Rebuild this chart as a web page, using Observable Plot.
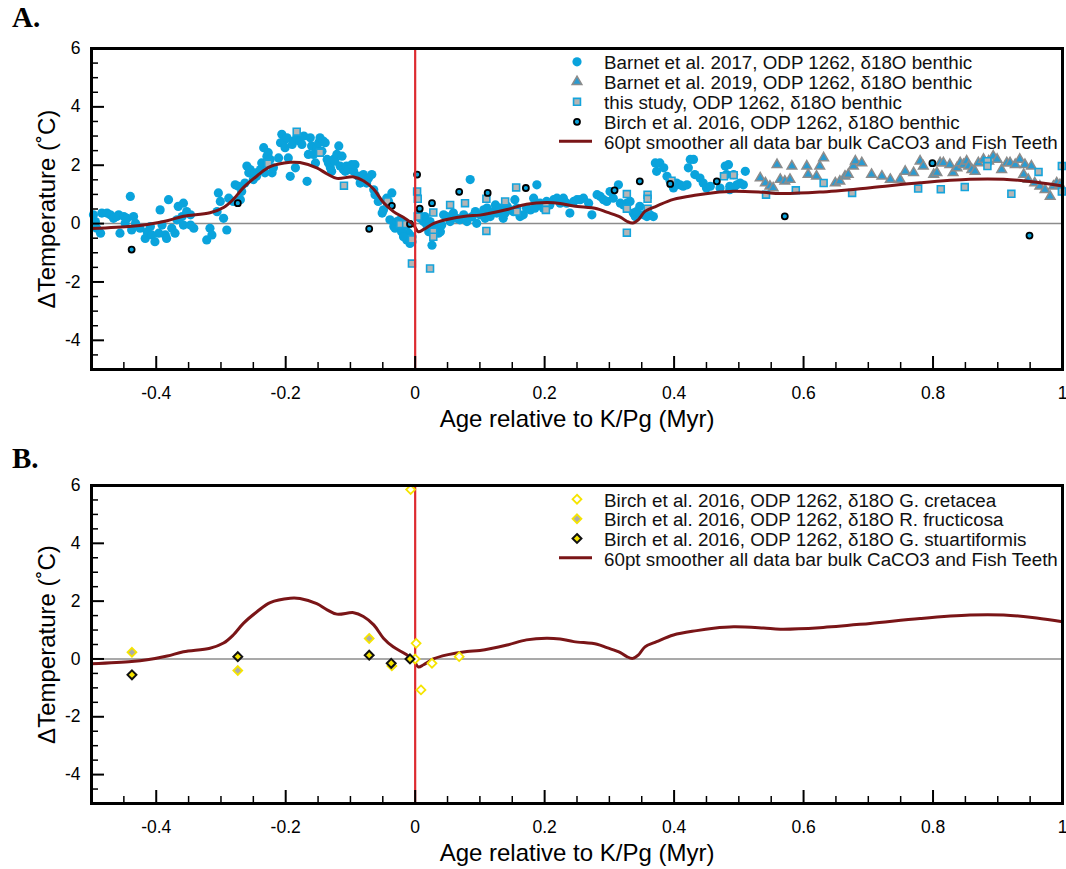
<!DOCTYPE html>
<html><head><meta charset="utf-8">
<script src="https://cdn.jsdelivr.net/npm/d3@7"></script>
<script src="https://cdn.jsdelivr.net/npm/@observablehq/plot@0.6"></script>
<style>
body{margin:0;background:#fff;}
#wrap{position:relative;width:1066px;height:869px;overflow:hidden;}
#wrap > svg{position:absolute;left:0;}
</style></head><body><div id="wrap"></div>
<script>
// ---------- data (age relative to K/Pg in Myr, ΔTemperature in °C) ----------
const barnet2017 = [
[-0.497,0.30],[-0.494,0.07],[-0.492,-0.16],[-0.486,-0.33],[-0.484,0.36],[-0.476,0.36],[-0.471,0.30],[-0.466,0.18],[-0.461,0.24],[-0.458,0.30],
[-0.456,-0.33],[-0.450,0.24],[-0.448,0.01],[-0.445,0.18],[-0.440,0.93],[-0.435,0.24],[-0.432,0.01],[-0.438,-0.22],[-0.425,-0.16],[-0.417,-0.51],
[-0.414,-0.28],[-0.409,-0.10],[-0.407,-0.39],[-0.402,-0.62],[-0.396,-0.33],[-0.394,0.47],[-0.391,-0.05],[-0.386,-0.39],[-0.384,-0.51],[-0.381,0.82],
[-0.376,-0.16],[-0.371,-0.33],[-0.368,0.13],[-0.366,0.59],[-0.360,0.24],[-0.358,0.70],[-0.353,0.41],[-0.347,0.30],[-0.342,-0.16],[-0.358,-0.05],[-0.347,-0.05],
[-0.322,-0.56],[-0.317,-0.16],[-0.314,-0.39],[-0.306,0.41],[-0.304,1.05],[-0.301,0.76],[-0.296,0.18],[-0.291,-0.22],[-0.288,0.87],[-0.281,0.76],
[-0.278,1.33],[-0.273,1.28],[-0.270,0.82],[-0.268,1.10],
[-0.263,1.39],[-0.260,1.97],[-0.257,1.74],[-0.255,1.85],[-0.250,1.51],[-0.247,1.74],[-0.245,1.62],[-0.239,1.85],[-0.237,2.08],[-0.234,2.60],
[-0.232,1.74],[-0.229,2.31],[-0.227,2.43],[-0.224,2.20],[-0.221,1.74],[-0.219,1.91],
[-0.211,2.25],[-0.208,2.77],[-0.206,3.06],[-0.203,2.83],[-0.201,2.60],[-0.198,2.94],[-0.196,2.25],[-0.193,1.62],[-0.190,2.71],[-0.188,2.83],
[-0.185,1.91],[-0.183,2.94],[-0.178,2.83],[-0.175,2.71],[-0.172,3.00],[-0.167,1.45],[-0.165,2.37],[-0.162,2.94],[-0.160,2.66],[-0.157,2.37],
[-0.154,2.08],[-0.152,2.60],[-0.149,2.77],[-0.147,2.94],[-0.144,2.48],[-0.142,2.83],[-0.139,2.77],[-0.136,2.20],[-0.134,2.08],[-0.131,1.91],
[-0.129,1.79],[-0.126,2.20],[-0.124,2.14],[-0.121,2.37],[-0.118,2.66],[-0.116,1.97],[-0.113,2.31],[-0.111,1.85],[-0.108,1.79],[-0.106,1.97],
[-0.103,1.85],[-0.098,2.02],[-0.095,1.79],[-0.093,2.02],[-0.088,1.62],[-0.085,1.39],[-0.080,1.68],[-0.075,1.39],[-0.072,1.56],[-0.067,1.68],
[-0.064,1.16],[-0.062,0.99],[-0.057,0.76],[-0.051,0.36],[-0.049,0.47],[-0.044,0.87],[-0.041,0.76],[-0.036,1.05],[-0.039,0.13],[-0.033,-0.10],
[-0.031,-0.16],[-0.028,0.07],[-0.023,0.13],[-0.021,-0.16],[-0.018,-0.39],[-0.015,-0.45],[-0.013,-0.56],[-0.010,-0.33],[-0.008,-0.68],[-0.005,-0.62],[-0.005,-0.45],
[-0.021,-0.28],[-0.018,-0.45],[-0.013,-0.05],[-0.008,-0.62],
[0.005,0.36],[0.008,0.18],[0.013,0.07],[0.015,0.24],[0.018,-0.05],[0.021,-0.28],[0.023,0.07],[0.026,-0.74],[0.028,-0.16],[0.033,-0.10],
[0.036,-0.33],[0.039,-0.28],[0.041,-0.05],[0.044,0.30],[0.049,0.24],[0.054,0.07],[0.059,0.36],[0.064,0.18],[0.069,0.13],[0.075,0.30],
[0.080,0.07],[0.085,1.51],[0.088,0.24],[0.093,0.41],[0.095,0.01],[0.100,0.30],[0.106,0.47],[0.108,0.18],[0.111,0.53],[0.116,0.24],
[0.121,0.41],[0.124,0.64],[0.126,0.36],[0.131,0.53],[0.136,0.18],[0.139,0.36],[0.142,0.59],[0.147,0.47],[0.152,0.41],[0.154,0.82],
[0.157,0.53],[0.162,0.24],[0.167,0.30],[0.172,0.53],[0.178,0.47],[0.183,0.87],[0.185,0.53],[0.188,1.33],[0.193,0.70],[0.198,0.53],
[0.203,0.76],[0.208,0.64],[0.214,0.82],[0.219,0.87],[0.224,0.70],[0.229,0.87],[0.234,0.70],[0.239,0.36],[0.245,0.76],[0.250,0.82],
[0.255,0.82],[0.260,0.87],[0.268,0.70],[0.273,0.30],[0.281,0.99],[0.286,0.93],[0.291,0.82],[0.296,0.76],[0.301,1.10],[0.306,0.87],
[0.314,1.33],[0.317,0.70],[0.322,0.64],[0.327,0.70],[0.332,0.76],[0.337,0.36],[0.340,0.24],[0.342,0.41],[0.347,0.59],[0.353,0.30],
[0.358,0.24],[0.363,0.30],[0.368,0.24],[0.373,1.79],[0.371,2.08],[0.378,2.08],[0.384,1.91],[0.389,1.62],[0.394,1.45],[0.399,1.22],
[0.404,1.39],[0.409,1.33],[0.414,1.28],[0.420,1.33],[0.422,1.91],[0.425,2.20],[0.430,2.20],[0.432,1.68],[0.440,1.56],[0.445,1.39],
[0.450,1.22],[0.456,1.28],[0.471,1.22],[0.479,1.97],[0.481,1.68],[0.486,1.16],[0.492,1.22],[0.497,1.33],
[0.484,2.02],[0.492,1.68],[0.502,1.39],[0.510,1.79],[0.486,1.28],[0.507,1.33]
];
const barnet2019 = [
[0.533,1.56],[0.541,1.39],[0.548,1.28],[0.553,1.22],[0.559,2.02],[0.564,1.51],[0.571,1.45],[0.579,1.51],[0.582,1.97],[0.605,1.97],
[0.607,1.68],[0.620,1.62],[0.625,1.97],[0.631,2.25],[0.649,1.39],[0.656,1.45],[0.664,1.62],[0.669,1.68],[0.677,1.97],[0.680,2.14],
[0.690,2.08],[0.705,1.68],[0.721,1.62],[0.734,1.51],[0.749,1.51],[0.757,1.79],[0.770,1.74],[0.780,2.14],[0.785,1.97],[0.801,1.68],
[0.806,1.74],[0.811,2.08],[0.816,2.08],[0.826,2.02],[0.831,1.74],[0.837,1.91],[0.842,2.08],[0.847,2.02],[0.852,2.14],[0.855,1.97],
[0.860,1.85],[0.865,1.79],[0.870,2.08],[0.878,2.20],[0.886,2.14],[0.893,2.31],[0.899,2.20],[0.906,1.85],[0.914,2.08],[0.919,2.08],
[0.927,2.02],[0.934,2.20],[0.942,2.02],[0.952,1.97],[0.940,1.68],[0.947,1.51],[0.957,1.39],[0.965,1.28],[0.973,1.16],[0.981,0.93],
[0.986,1.28],[0.991,1.39],[0.996,1.33]
];
const thisStudy = [
[-0.183,3.15],[-0.147,2.43],[-0.227,2.05],[-0.110,1.30],[-0.043,0.76],[-0.023,-0.02],[-0.014,-0.02],[-0.005,-0.54],[-0.005,-1.37],
[0.003,1.10],[0.004,0.85],[0.004,0.24],
[0.023,-1.54],[0.028,-0.28],[0.028,-0.45],[0.028,0.38],[0.054,0.64],[0.077,0.70],[0.110,0.85],[0.110,-0.25],[0.139,0.76],[0.157,0.41],
[0.156,1.24],[0.202,0.64],[0.202,0.47],[0.327,1.01],[0.327,0.51],[0.327,-0.31],[0.359,0.99],[0.359,0.85],[0.359,0.51],[0.396,1.47],
[0.477,1.62],[0.492,1.66],
[0.542,0.99],[0.588,1.14],[0.631,1.39],[0.675,1.05],[0.777,1.20],[0.812,1.18],[0.849,1.25],[0.884,2.14],[0.884,1.97],[0.921,1.02],
[0.963,1.77],[0.999,1.97],[0.999,1.10]
];
const birchBenthic = [
[-0.438,-0.89],[-0.274,0.70],[-0.071,-0.18],[-0.036,0.61],[-0.008,-0.01],[0.003,1.68],[0.007,0.51],
[0.026,0.70],[0.068,1.09],[0.112,1.05],[0.171,1.22],[0.308,1.14],[0.347,1.45],[0.394,1.36],[0.466,1.45],
[0.571,0.25],[0.799,2.07],[0.949,-0.41]
];
const gCretacea = [[-0.007,5.86],[0.0015,0.54],[0.0,0.0],[0.009,-1.07],[0.026,-0.15],[0.068,0.08]];
const rFructicosa = [[-0.4375,0.23],[-0.274,-0.40],[-0.071,0.71],[-0.036,-0.24]];
const gStuartiformis = [[-0.4375,-0.55],[-0.274,0.08],[-0.071,0.13],[-0.037,-0.15],[-0.008,0.0]];
const smoother = [
[-0.500,-0.17],[-0.438,-0.09],[-0.414,-0.03],[-0.383,0.10],[-0.358,0.25],[-0.317,0.37],[-0.296,0.55],[-0.281,0.83],[-0.265,1.24],[-0.244,1.64],
[-0.224,1.95],[-0.193,2.10],[-0.178,2.09],[-0.152,1.91],[-0.136,1.70],[-0.121,1.55],[-0.095,1.60],[-0.080,1.47],[-0.064,1.18],[-0.049,0.72],
[-0.034,0.42],[-0.015,0.17],[-0.003,-0.03],[0.005,-0.28],[0.013,-0.20],[0.028,0.00],[0.049,0.14],[0.080,0.26],[0.100,0.29],[0.142,0.48],
[0.172,0.66],[0.203,0.72],[0.224,0.69],[0.245,0.60],[0.281,0.51],[0.296,0.39],[0.317,0.22],[0.327,0.08],[0.336,0.02],[0.345,0.14],
[0.355,0.42],[0.373,0.60],[0.399,0.83],[0.435,0.98],[0.461,1.06],[0.492,1.11],[0.538,1.07],[0.564,1.03],[0.625,1.08],[0.703,1.23],
[0.780,1.40],[0.857,1.52],[0.909,1.52],[0.960,1.42],[1.000,1.29]
];
const xMajor = [-0.4,-0.2,0,0.2,0.4,0.6,0.8,1];
const xMinor = [-0.45,-0.35,-0.3,-0.25,-0.15,-0.1,-0.05,0.05,0.1,0.15,0.25,0.3,0.35,0.45,0.5,0.55,0.65,0.7,0.75,0.85,0.9,0.95];
const yMajor = [-4,-2,0,2,4,6];
const yMinor = [-4.5,-3.5,-3,-2.5,-1.5,-1,-0.5,0.5,1,1.5,2.5,3,3.5,4.5,5,5.5];
const xTitle = "Age relative to K/Pg (Myr)";
const yTitle = "\u0394Temperature (\u02DAC)";
const legendA = [
  "Barnet et al. 2017, ODP 1262, \u03B418O benthic",
  "Barnet et al. 2019, ODP 1262, \u03B418O benthic",
  "this study, ODP 1262, \u03B418O benthic",
  "Birch et al. 2016, ODP 1262, \u03B418O benthic",
  "60pt smoother all data bar bulk CaCO3 and Fish Teeth"
];
const legendB = [
  "Birch et al. 2016, ODP 1262, \u03B418O G. cretacea",
  "Birch et al. 2016, ODP 1262, \u03B418O R. fructicosa",
  "Birch et al. 2016, ODP 1262, \u03B418O G. stuartiformis",
  "60pt smoother all data bar bulk CaCO3 and Fish Teeth"
];

// ---------- styles ----------
const C = {
  b17: "#0aa3dc", triFill: "#2b9bd1", triStroke: "#8c8c8c",
  sqFill: "#b5b5b5", sqStroke: "#14a4dc", smooth: "#7a1517", red: "#dd2a30",
  zero: "#8c8c8c", yellow: "#f5e400", grey: "#ababab"
};
const FONT = "'Liberation Sans', Arial, sans-serif";
const W = 1066, ML = 91, MR = 4;

function frameMarks(H) {
  const FW = W - ML - MR;
  return [
    Plot.ruleX(xMajor, {x: d => d, insetTop: H - 13, stroke: "black", strokeWidth: 2}),
    Plot.ruleX(xMinor, {x: d => d, insetTop: H - 7, stroke: "black", strokeWidth: 1.5}),
    Plot.ruleY(yMajor, {y: d => d, insetRight: FW - 13, stroke: "black", strokeWidth: 2}),
    Plot.ruleY(yMinor, {y: d => d, insetRight: FW - 7, stroke: "black", strokeWidth: 1.5}),
    Plot.frame({stroke: "black", strokeWidth: 3}),
    Plot.axisX(xMajor, {tickSize: 0, tickPadding: 17, tickFormat: d => String(d), label: null, fontSize: 17.5}),
    Plot.axisY(yMajor, {tickSize: 0, tickPadding: 11, tickFormat: d => String(d), label: null, fontSize: 17.5}),
    Plot.text([xTitle], {text: d => d, frameAnchor: "bottom", dy: 50, lineAnchor: "middle", textAnchor: "middle", fontSize: 24}),
    Plot.text([yTitle], {text: d => d, frameAnchor: "left", dx: -44, rotate: -90, lineAnchor: "middle", textAnchor: "middle", fontSize: 24})
  ];
}
function makePlot(height, mt, mb, marks) {
  return Plot.plot({
    width: W, height, marginLeft: ML, marginRight: MR, marginTop: mt, marginBottom: mb,
    x: {domain: [-0.5, 1]}, y: {domain: [-5, 6]},
    style: {fontFamily: FONT, fontSize: "17px", background: "transparent", color: "black", overflow: "visible"},
    marks
  });
}
const smoothLine = Plot.line(smoother, {x: d => d[0], y: d => d[1], stroke: C.smooth, strokeWidth: 3, curve: "catmull-rom"});

// Panel A
const hA = 440, mtA = 48, mbA = 71;
const plotA = makePlot(hA, mtA, mbA, [
  Plot.ruleY([0], {stroke: C.zero, strokeWidth: 1.5}),
  Plot.dot(barnet2017, {x: d => d[0], y: d => d[1], r: 4.6, fill: C.b17, stroke: "none"}),
  Plot.dot(barnet2019, {x: d => d[0], y: d => d[1], symbol: "triangle", r: 3.6, fill: C.triFill, stroke: C.triStroke, strokeWidth: 1.5}),
  Plot.dot(thisStudy, {x: d => d[0], y: d => d[1], symbol: "square", r: 3.9, fill: C.sqFill, stroke: C.sqStroke, strokeWidth: 1.6}),
  Plot.dot(birchBenthic, {x: d => d[0], y: d => d[1], r: 3, fill: C.b17, stroke: "black", strokeWidth: 1.8}),
  smoothLine,
  Plot.ruleX([0], {stroke: C.red, strokeWidth: 2.2}),
  ...frameMarks(hA - mtA - mbA)
]);
plotA.style.top = "0px";

// Panel B
const hB = 429, mtB = 45, mbB = 66;
const plotB = makePlot(hB, mtB, mbB, [
  Plot.ruleY([0], {stroke: C.zero, strokeWidth: 1.5}),
  smoothLine,
  Plot.ruleX([0], {stroke: C.red, strokeWidth: 2.2}),
  Plot.dot(gCretacea, {x: d => d[0], y: d => d[1], symbol: "diamond2", r: 4, fill: "white", stroke: C.yellow, strokeWidth: 1.8}),
  Plot.dot(rFructicosa, {x: d => d[0], y: d => d[1], symbol: "diamond2", r: 4, fill: C.grey, stroke: C.yellow, strokeWidth: 1.8}),
  Plot.dot(gStuartiformis, {x: d => d[0], y: d => d[1], symbol: "diamond2", r: 4, fill: C.yellow, stroke: "#111", strokeWidth: 2}),
  ...frameMarks(hB - mtB - mbB)
]);
plotB.style.top = hA + "px";

const wrap = document.getElementById("wrap");
wrap.appendChild(plotA);
wrap.appendChild(plotB);

// ---------- overlay: panel letters and legends ----------
const ov = d3.create("svg").attr("width", W).attr("height", 869)
  .style("position", "absolute").style("left", "0px").style("top", "0px").style("pointer-events", "none");
ov.append("text").attr("x", 12).attr("y", 27).text("A.")
  .attr("font-family", "'Liberation Serif', 'Times New Roman', serif").attr("font-weight", "bold").attr("font-size", 29);
ov.append("text").attr("x", 12).attr("y", 468).text("B.")
  .attr("font-family", "'Liberation Serif', 'Times New Roman', serif").attr("font-weight", "bold").attr("font-size", 29);

const symX = 577, txtX = 604;
function legendRow(label, baseline, drawSym) {
  ov.append("text").attr("x", txtX).attr("y", baseline).text(label)
    .attr("font-family", FONT).attr("font-size", 18.8).attr("fill", "#111");
  drawSym(ov.append("g").attr("transform", `translate(${symX},${baseline - 7.5})`));
}
const sym = (type, r) => d3.symbol(type, Math.PI * r * r)();
const baseA = [69.3, 89.3, 109.3, 129.3, 149.3];
legendRow(legendA[0], baseA[0], g => g.append("circle").attr("r", 4.6).attr("fill", C.b17));
legendRow(legendA[1], baseA[1], g => g.append("path").attr("d", sym(d3.symbolTriangle, 3.6)).attr("fill", C.triFill).attr("stroke", C.triStroke).attr("stroke-width", 1.5));
legendRow(legendA[2], baseA[2], g => g.append("path").attr("d", sym(d3.symbolSquare, 3.9)).attr("fill", C.sqFill).attr("stroke", C.sqStroke).attr("stroke-width", 1.6));
legendRow(legendA[3], baseA[3], g => g.append("circle").attr("r", 3).attr("fill", C.b17).attr("stroke", "black").attr("stroke-width", 1.8));
legendRow(legendA[4], baseA[4], g => g.append("line").attr("x1", -18).attr("x2", 15).attr("y1", -0.5).attr("y2", -0.5).attr("stroke", C.smooth).attr("stroke-width", 3));

const baseB = [506.7, 526.3, 546, 565.7];
legendRow(legendB[0], baseB[0], g => g.append("path").attr("d", sym(d3.symbolDiamond2, 4)).attr("fill", "white").attr("stroke", C.yellow).attr("stroke-width", 1.8));
legendRow(legendB[1], baseB[1], g => g.append("path").attr("d", sym(d3.symbolDiamond2, 4)).attr("fill", C.grey).attr("stroke", C.yellow).attr("stroke-width", 1.8));
legendRow(legendB[2], baseB[2], g => g.append("path").attr("d", sym(d3.symbolDiamond2, 4)).attr("fill", C.yellow).attr("stroke", "#111").attr("stroke-width", 2));
legendRow(legendB[3], baseB[3], g => g.append("line").attr("x1", -18).attr("x2", 15).attr("y1", -0.5).attr("y2", -0.5).attr("stroke", C.smooth).attr("stroke-width", 3));

wrap.appendChild(ov.node());
</script>
</body></html>
